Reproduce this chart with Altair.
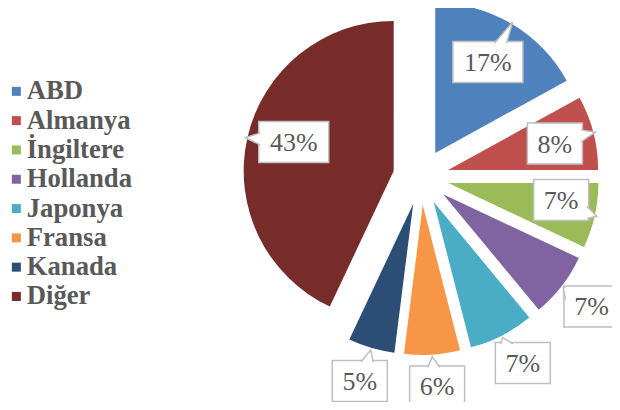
import altair as alt
import pandas as pd

# ---- data ----
CATEGORIES = ["ABD", "Almanya", "İngiltere", "Hollanda", "Japonya", "Fransa", "Kanada", "Diğer"]
VALUES = [17, 8, 7, 7, 7, 6, 5, 43]

# ---- style ----
COLORS = ["#4F81BD", "#C0504D", "#9BBB59", "#8064A2", "#4BACC6", "#F79646", "#2C4D75", "#772C2A"]
LABEL_RADIUS = [133, 138, 142, 214, 212, 210, 213, 132]
LABEL_ANGLE_SHIFT = [-0.4, 0.4, -3.3, -0.6, -1.7, -0.8, 0.5, 2.8]  # degrees
CX, CY, R, EXPLODE = 413, 169, 150, 28
HH = 20.5
GRAY = "#BFBFBF"
TEXT = "#595959"
SERIF = "'Liberation Serif', 'Times New Roman', 'DejaVu Serif', serif"

df = pd.DataFrame({
    "category": CATEGORIES,
    "value": VALUES,
    "order": list(range(len(CATEGORIES))),
    "lr": LABEL_RADIUS,
    "lshift": LABEL_ANGLE_SHIFT,
})

base = alt.Chart(df).transform_window(
    cum="sum(value)", sort=[alt.SortField("order")], frame=[None, 0]
).transform_joinaggregate(
    total="sum(value)"
).transform_calculate(
    label="datum.value + '%'",
    a0="(datum.cum - datum.value) / datum.total * 2 * PI",
    a1="datum.cum / datum.total * 2 * PI",
    mid="(datum.cum - datum.value / 2) / datum.total * 2 * PI",
).transform_calculate(
    lmid="datum.mid + datum.lshift * PI / 180",
    cx=f"{CX} + {EXPLODE} * sin(datum.mid)",
    cy=f"{CY} - {EXPLODE} * cos(datum.mid)",
    hw="length(datum.label) > 2 ? 35 : 27.5",
).transform_calculate(
    lx=f"{CX} + datum.lr * sin(datum.lmid)",
    ly=f"{CY} - datum.lr * cos(datum.lmid)",
    tx=f"datum.cx + {R + 2} * sin(datum.mid)",
    ty=f"datum.cy - {R + 2} * cos(datum.mid)",
).transform_calculate(
    bx0="datum.lx - datum.hw",
    bx1="datum.lx + datum.hw",
    by0=f"datum.ly - {HH}",
    by1=f"datum.ly + {HH}",
    dx="datum.tx - datum.lx",
    dy="datum.ty - datum.ly",
).transform_calculate(
    sx="datum.dx >= 0 ? 1 : -1",
    sy="datum.dy >= 0 ? 1 : -1",
    side=f"abs(datum.dx) * {HH} > abs(datum.dy) * datum.hw",
).transform_calculate(
    ex=f"datum.side ? datum.sx * (datum.hw - 1.5) : clamp(datum.dx * {HH} / abs(datum.dy), -datum.hw + 8, datum.hw - 8)",
    ey=f"datum.side ? clamp(datum.dy * datum.hw / abs(datum.dx), {-HH + 8}, {HH - 8}) : datum.sy * ({HH} - 1.5)",
).transform_calculate(
    tail="datum.side ? "
         "('M' + datum.ex + ',' + (datum.ey - 6) + 'L' + datum.dx + ',' + datum.dy + 'L' + datum.ex + ',' + (datum.ey + 6)) : "
         "('M' + (datum.ex - 6) + ',' + datum.ey + 'L' + datum.dx + ',' + datum.dy + 'L' + (datum.ex + 6) + ',' + datum.ey)"
)

arcs = base.mark_arc(radius=R, stroke=None).encode(
    theta=alt.Theta("a0:Q", scale=None, stack=None),
    theta2="a1:Q",
    x=alt.X("cx:Q", scale=None, stack=None),
    y=alt.Y("cy:Q", scale=None, stack=None),
    color=alt.Color(
        "category:N",
        scale=alt.Scale(domain=CATEGORIES, range=COLORS),
        sort=CATEGORIES,
        legend=alt.Legend(
            orient="none", legendX=-5, legendY=70, title=None,
            symbolType="square", symbolSize=81, symbolStrokeWidth=0,
            labelFont=SERIF, labelFontSize=26.7, labelFontWeight="bold",
            labelColor=TEXT, rowPadding=1.3, labelOffset={"expr": "-3"}, padding=0, labelLimit=300,
        ),
    ),
    order=alt.Order("order:Q"),
)

boxes = base.mark_rect(fill="white", stroke=GRAY, strokeWidth=1.5).encode(
    x=alt.X("bx0:Q", scale=None),
    x2="bx1:Q",
    y=alt.Y("by0:Q", scale=None),
    y2="by1:Q",
)

tails = base.mark_point(filled=True, fill="white", stroke=GRAY, strokeWidth=1.5, opacity=1, size=4).encode(
    x=alt.X("lx:Q", scale=None),
    y=alt.Y("ly:Q", scale=None),
    shape=alt.Shape("tail:N", scale=None),
)

labels = base.mark_text(font=SERIF, fontSize=26, color=TEXT, align="center", baseline="middle", dy=1).encode(
    x=alt.X("lx:Q", scale=None),
    y=alt.Y("ly:Q", scale=None),
    text="label:N",
)

chart = alt.layer(arcs, boxes, tails, labels).properties(
    width=604, height=394, padding=0, autosize=alt.AutoSizeParams(type="none")
).configure_view(stroke=None)

chart.save("out.html", embed_options={"renderer": "svg", "actions": False})
